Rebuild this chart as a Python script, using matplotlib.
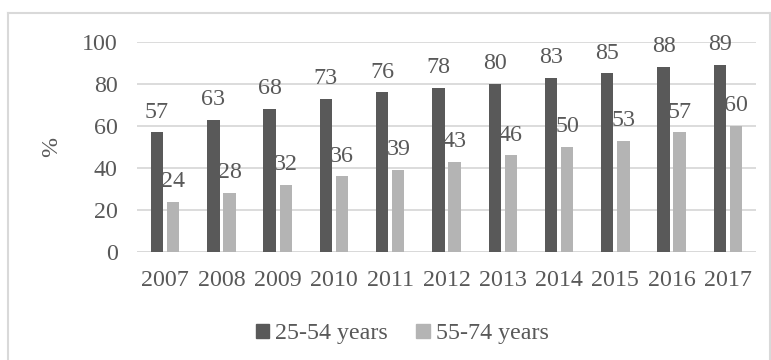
import numpy as np
import matplotlib
matplotlib.use("Agg")
import matplotlib.pyplot as plt
from matplotlib.lines import Line2D
from matplotlib.patches import Patch

years = ["2007", "2008", "2009", "2010", "2011", "2012", "2013", "2014", "2015", "2016", "2017"]
age_25_54 = [57, 63, 68, 73, 76, 78, 80, 83, 85, 88, 89]
age_55_74 = [24, 28, 32, 36, 39, 43, 46, 50, 53, 57, 60]
yticks = [0, 20, 40, 60, 80, 100]

plt.rcParams['font.family'] = ['Liberation Serif', 'DejaVu Serif']
txt = '#595959'
dark = '#595959'
light = '#b4b4b4'
fs = 17.3

W, H = 771, 360
fig = plt.figure(figsize=(W / 100, H / 100), dpi=100)

# outer frame (Excel chart area border)
fig.add_artist(Line2D([8 / W, 770 / W], [1 - 13 / H, 1 - 13 / H], color='#d9d9d9', lw=1.5))
fig.add_artist(Line2D([8 / W, 8 / W], [0, 1 - 13 / H], color='#d9d9d9', lw=1.5))
fig.add_artist(Line2D([770 / W, 770 / W], [0, 1 - 13 / H], color='#d9d9d9', lw=1.5))

ax = fig.add_axes([137 / W, 1 - 252 / H, (756 - 137) / W, (252 - 42) / H])
x = np.arange(len(years))
w = 0.22
off = 0.143
b1 = ax.bar(x - off, age_25_54, w, color=dark, zorder=3)
b2 = ax.bar(x + off, age_55_74, w, color=light, zorder=3)

for bars, vals in ((b1, age_25_54), (b2, age_55_74)):
    for r, v in zip(bars, vals):
        ax.annotate(str(v), (r.get_x() + r.get_width() / 2, v), xytext=(0, 7),
                    textcoords='offset points', ha='center', va='bottom',
                    fontsize=fs, color=txt, zorder=4)

ax.set_xlim(-0.5, len(years) - 0.5)
ax.set_ylim(0, 100)
ax.set_yticks(yticks)
ax.set_xticks(x)
ax.set_xticklabels(years)
ax.tick_params(length=0, labelsize=fs, labelcolor=txt)
ax.tick_params(axis='y', pad=14)
ax.tick_params(axis='x', pad=13)
ax.grid(axis='y', color='#d9d9d9', lw=1.3, zorder=0)
for s in ax.spines.values():
    s.set_visible(False)
ax.axhline(0, color='#d9d9d9', lw=1.3, zorder=2)
ax.set_ylabel('%', fontsize=fs, color=txt, labelpad=14)

handles = [Patch(color=dark, label='25-54 years'), Patch(color=light, label='55-74 years')]
fig.legend(handles=handles, loc='center', bbox_to_anchor=(402 / W, 1 - 334 / H), ncol=2,
           frameon=False, fontsize=fs, labelcolor=txt, handlelength=0.55, handleheight=0.55,
           handletextpad=0.25, columnspacing=1.2)

fig.savefig('out.png', dpi=100)
